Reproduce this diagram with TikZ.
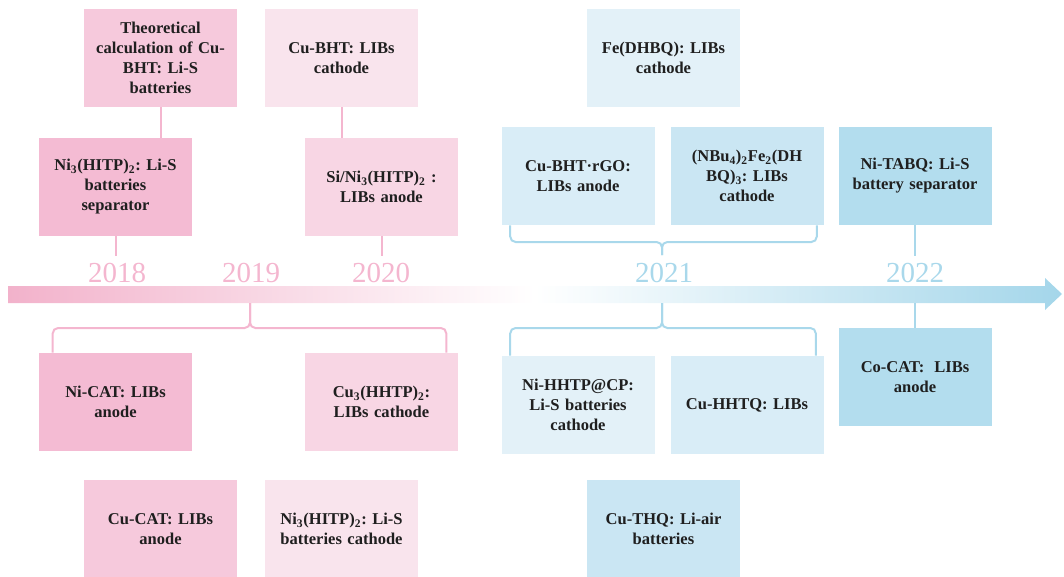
\documentclass[tikz,border=0pt]{standalone}
\usepackage{fontspec}
\setmainfont{Liberation Serif}
\usepackage{tikz}
\usetikzlibrary{calc, positioning}
\frenchspacing

\definecolor{pinkA}{HTML}{F4BBD3}
\definecolor{pinkB}{HTML}{F6C9DC}
\definecolor{pinkC}{HTML}{F8D6E4}
\definecolor{pinkD}{HTML}{F9E4ED}
\definecolor{blueA}{HTML}{E3F1F8}
\definecolor{blueB}{HTML}{D9EDF7}
\definecolor{blueC}{HTML}{CAE6F3}
\definecolor{blueD}{HTML}{B3DDEE}
\definecolor{linepink}{HTML}{F4B6CF}
\definecolor{lineblue}{HTML}{A9D8EB}
\definecolor{arrowpink}{HTML}{F2B2CB}
\definecolor{arrowblue}{HTML}{A4D6EA}

\tikzset{
    mof/.style={
        rectangle, inner sep=2pt,
        minimum width=114.75pt, minimum height=73.5pt,
        text width=110pt, align=center,
        font=\fontsize{12.4}{15}\selectfont\bfseries, text=black!88
    },
    year/.style={font=\fontsize{21.75}{22}\selectfont},
    pinkline/.style={draw=linepink, line width=1.5pt},
    blueline/.style={draw=lineblue, line width=1.5pt}
}

\begin{document}
\begin{tikzpicture}[x=0.75pt, y=0.75pt]
    \useasboundingbox (0,0) rectangle (1064,576);

    % time axis
    \shade[left color=arrowpink, right color=arrowblue, middle color=white]
        (8,290) -- (1045,290) -- (1045,298) -- (1062,282) -- (1045,266)
        -- (1045,273) -- (8,273) -- cycle;

    \node[year, text=linepink] (y18) at (117,303) {2018};
    \node[year, text=linepink] (y19) at (251,303) {2019};
    \node[year, text=linepink] (y20) at (381,303) {2020};
    \node[year, text=lineblue] (y21) at (664,303) {2021};
    \node[year, text=lineblue] (y22) at (915,303) {2022};

    % points where the connectors meet the axis
    \coordinate (up18) at (115.5,320);
    \coordinate (up20) at (381.5,320);
    \coordinate (up21) at (662,321);
    \coordinate (br21t) at (662,334);
    \coordinate (up22) at (915,320);
    \coordinate (dn19) at (250,273);
    \coordinate (br19) at (250,248);
    \coordinate (dn21) at (662,273);
    \coordinate (br21b) at (662,248);
    \coordinate (dn22) at (915,273);

    % above the axis
    \node[mof, fill=pinkB] (theo) at (160.5,518) {Theoretical\\calculation of Cu-\\BHT: Li-S\\batteries};
    \node[mof, fill=pinkD] (cubht) at (341.5,518) {Cu-BHT: LIBs\\cathode};
    \node[mof, fill=blueA] (fedhbq) at (663.5,518) {Fe(DHBQ): LIBs\\cathode};
    \node[mof, fill=pinkA] (nisep) at (115.5,389) {Ni\textsubscript{3}(HITP)\textsubscript{2}: Li-S\\batteries\\separator};
    \node[mof, fill=pinkC] (sini) at (381.5,389) {Si/Ni\textsubscript{3}(HITP)\textsubscript{2} :\\LIBs anode};
    \node[mof, fill=blueB] (curgo) at (578,400) {Cu-BHT\textperiodcentered rGO:\\LIBs anode};
    \node[mof, fill=blueC] (nbu) at (747,400) {(NBu\textsubscript{4})\textsubscript{2}Fe\textsubscript{2}(DH\\BQ)\textsubscript{3}: LIBs\\cathode};
    \node[mof, fill=blueD] (nitabq) at (915,400) {Ni-TABQ: Li-S\\battery separator};

    % below the axis
    \node[mof, fill=pinkA] (nicat) at (115.5,174) {Ni-CAT: LIBs\\anode};
    \node[mof, fill=pinkC] (cuhhtp) at (381.5,174) {Cu\textsubscript{3}(HHTP)\textsubscript{2}:\\LIBs cathode};
    \node[mof, fill=blueA] (nihhtp) at (578,171) {Ni-HHTP@CP:\\Li-S batteries\\cathode};
    \node[mof, fill=blueB] (cuhhtq) at (747,171) {Cu-HHTQ: LIBs};
    \node[mof, fill=blueD] (cocat) at (915,199) {Co-CAT:\hspace{0.6em}LIBs\\anode};
    \node[mof, fill=pinkB] (cucat) at (160.5,47) {Cu-CAT: LIBs\\anode};
    \node[mof, fill=pinkD] (nicath) at (341.5,47) {Ni\textsubscript{3}(HITP)\textsubscript{2}: Li-S\\batteries cathode};
    \node[mof, fill=blueC] (cuthq) at (663.5,47) {Cu-THQ: Li-air\\batteries};

    % connectors
    \draw[pinkline] (theo.south) -- (theo.south |- nisep.north);
    \draw[pinkline] (cubht.south) -- (cubht.south |- sini.north);
    \draw[pinkline] (nisep.south) -- (up18);
    \draw[pinkline] (sini.south) -- (up20);
    \draw[blueline, rounded corners=4pt] ($(curgo.south west)+(9,0)$) |- (br21t) -- (up21);
    \draw[blueline, rounded corners=4pt] ($(nbu.south east)+(-7,0)$) |- (br21t) -- (up21);
    \draw[blueline] (nitabq.south) -- (up22);

    \draw[pinkline, rounded corners=4pt] ($(nicat.north west)+(14,0)$) |- (br19) -- (dn19);
    \draw[pinkline, rounded corners=4pt] ($(cuhhtp.north east)+(-12,0)$) |- (br19) -- (dn19);
    \draw[blueline, rounded corners=4pt] ($(nihhtp.north west)+(9,0)$) |- (br21b) -- (dn21);
    \draw[blueline, rounded corners=4pt] ($(cuhhtq.north east)+(-8,0)$) |- (br21b) -- (dn21);
    \draw[blueline] (dn22) -- (cocat.north);
\end{tikzpicture}
\end{document}
